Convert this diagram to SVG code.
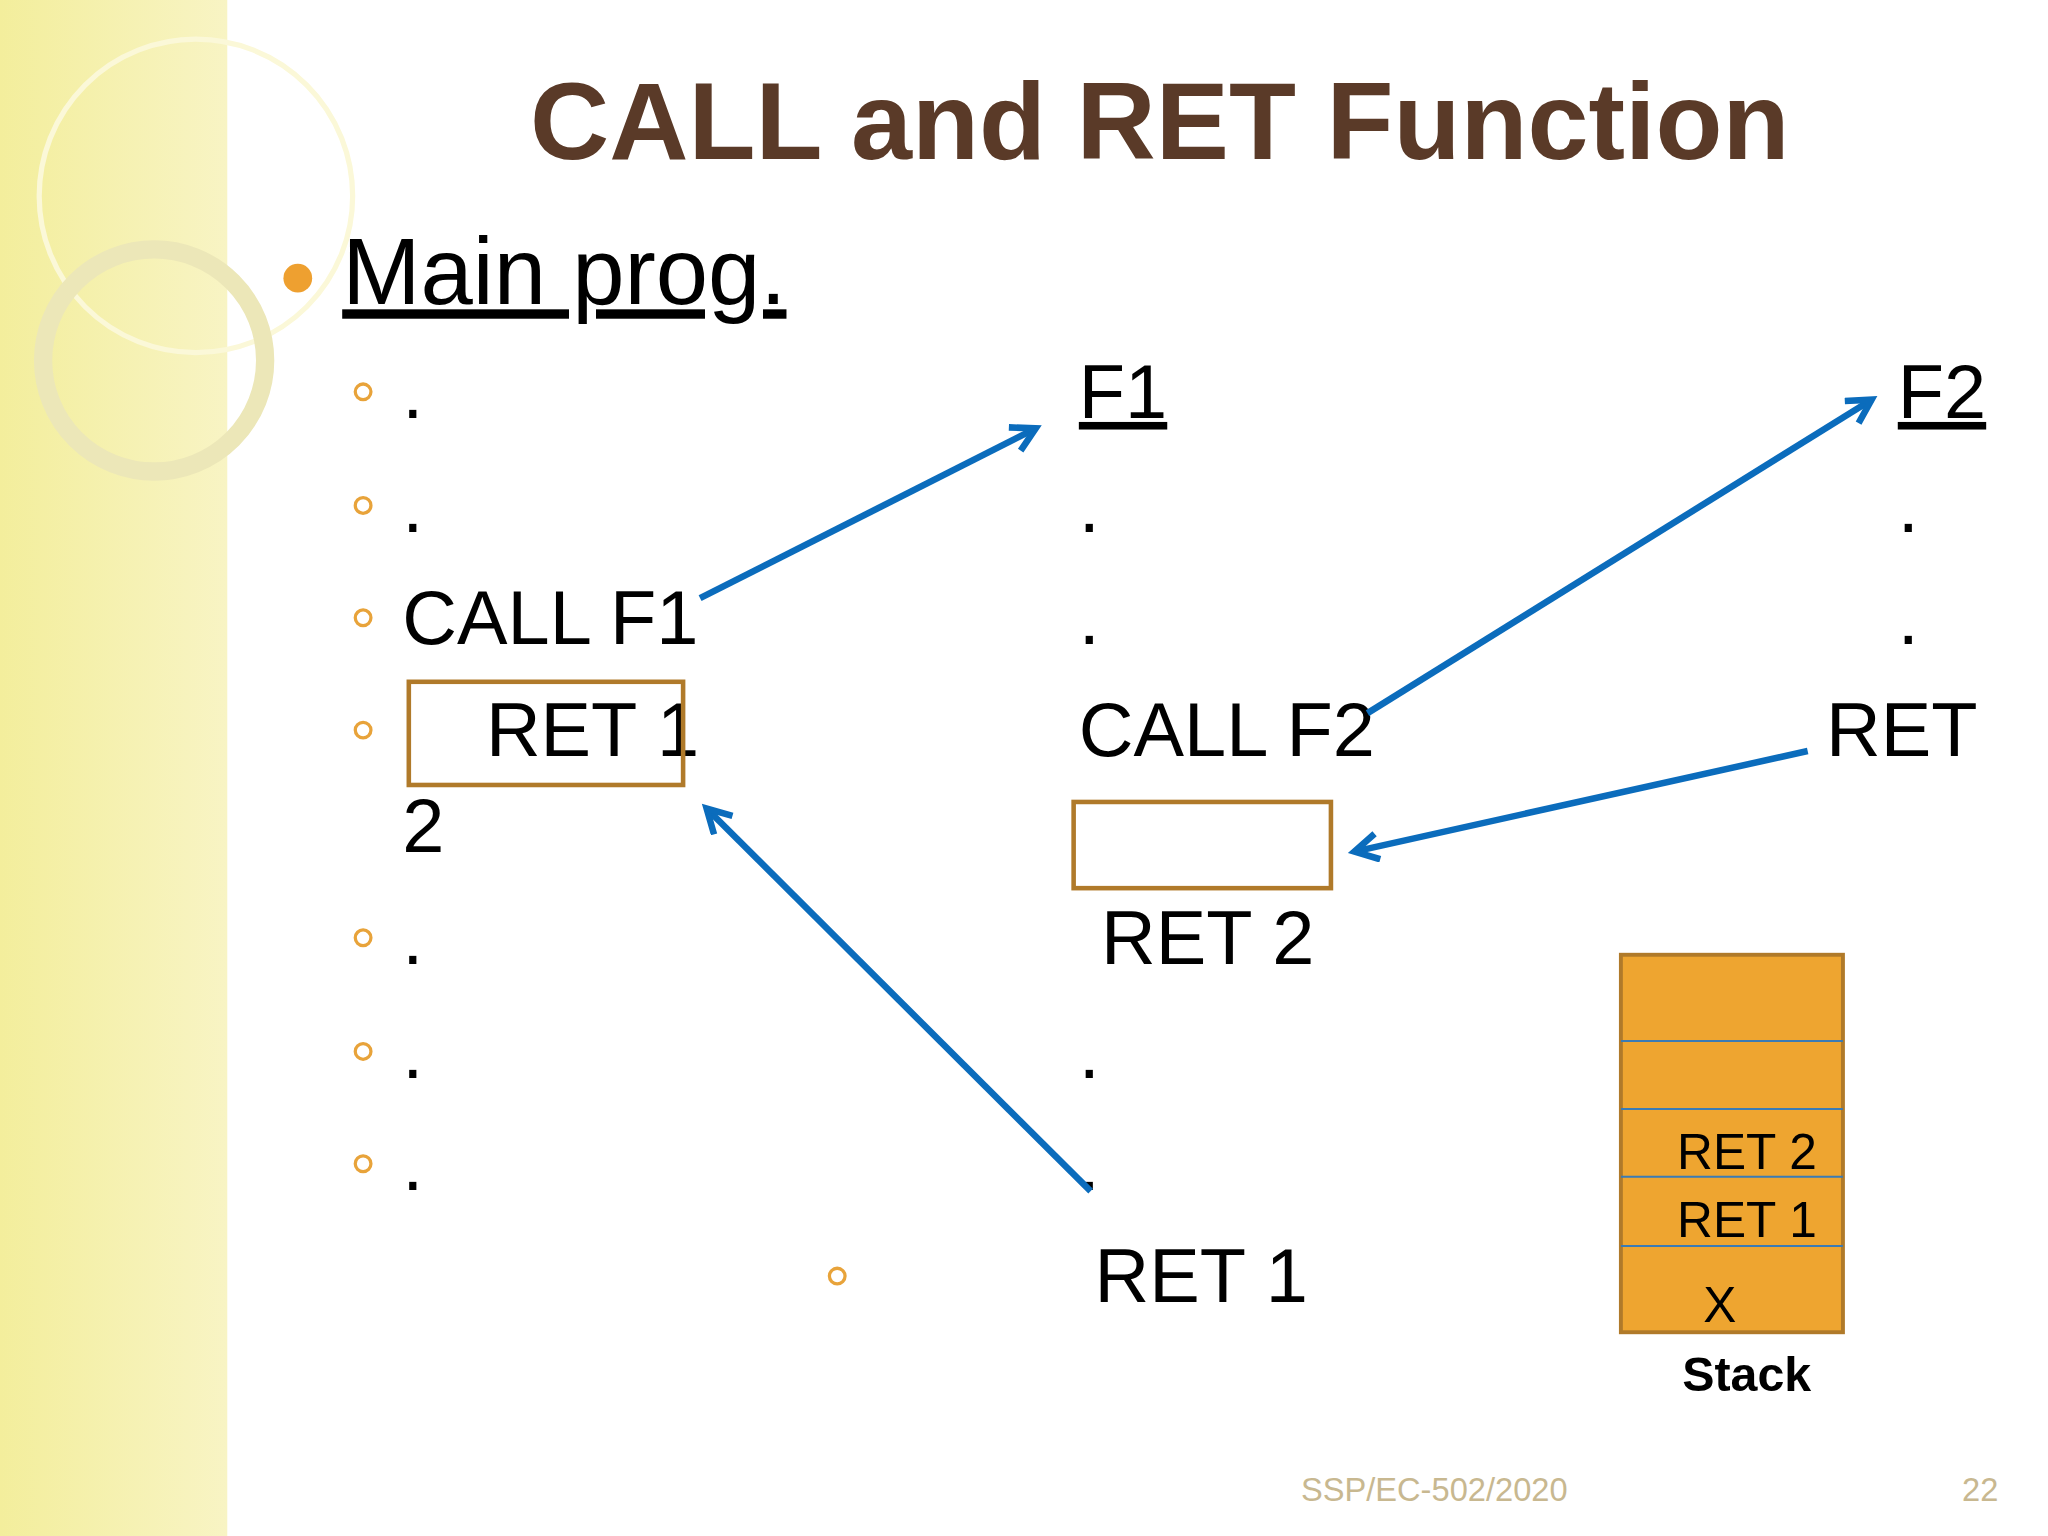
<svg xmlns="http://www.w3.org/2000/svg" width="2048" height="1536" viewBox="0 0 2048 1536">
<defs>
<linearGradient id="band" x1="0" x2="1" y1="0" y2="0"><stop offset="0" stop-color="#f3ee9c"/><stop offset="1" stop-color="#f8f4c4"/></linearGradient>
<marker id="ah" markerWidth="30" markerHeight="30" refX="20" refY="12" orient="auto" markerUnits="userSpaceOnUse"><path d="M2,2 L20,12 L2,22" fill="none" stroke="#0b6cbc" stroke-width="5"/></marker>
<style>
.t{font-family:"Liberation Sans",Arial,sans-serif;fill:#000;font-size:58px}
.s{font-size:38px}
.sb{fill:none;stroke:#e8a33a;stroke-width:2.5}
.c{stroke:#0b6cbc;stroke-width:5;fill:none;marker-end:url(#ah)}
.box{fill:none;stroke:#b07a2a;stroke-width:3.5}
</style>
</defs>
<rect width="2048" height="1536" fill="#fff"/>
<g transform="scale(1.30612)">
<rect x="0" y="0" width="174" height="1176" fill="url(#band)"/>
<circle cx="150" cy="150" r="120" fill="none" stroke="#fbf8d8" stroke-width="4"/>
<circle cx="118" cy="276" r="85" fill="none" stroke="#ece7b8" stroke-width="14"/>
<text x="888" y="122" text-anchor="middle" font-family="Liberation Sans,Arial,sans-serif" font-weight="bold" font-size="84" fill="#5a3a28">CALL and RET Function</text>
<circle cx="228" cy="213" r="11" fill="#eea030"/>
<text x="262" y="233" class="t" style="font-size:72px" text-decoration="underline">Main prog.</text>
<g id="main">
<circle class="sb" cx="278" cy="300" r="6"/><text class="t" x="308" y="320">.</text>
<circle class="sb" cx="278" cy="387" r="6"/><text class="t" x="308" y="407">.</text>
<circle class="sb" cx="278" cy="473" r="6"/><text class="t" x="308" y="493">CALL F1</text>
<circle class="sb" cx="278" cy="559" r="6"/><text class="t" x="372" y="579">RET 1</text>
<text class="t" x="308" y="652">2</text>
<rect class="box" x="313" y="522" width="210" height="79"/>
<circle class="sb" cx="278" cy="718" r="6"/><text class="t" x="308" y="738">.</text>
<circle class="sb" cx="278" cy="805" r="6"/><text class="t" x="308" y="825">.</text>
<circle class="sb" cx="278" cy="891" r="6"/><text class="t" x="308" y="911">.</text>
</g>
<g id="f1">
<text class="t" x="826" y="320" text-decoration="underline">F1</text>
<text class="t" x="826" y="407">.</text>
<text class="t" x="826" y="493">.</text>
<text class="t" x="826" y="579">CALL F2</text>
<rect class="box" x="822" y="614" width="197" height="66"/>
<text class="t" x="843" y="738">RET 2</text>
<text class="t" x="826" y="825">.</text>
<text class="t" x="826" y="911">.</text>
<circle class="sb" cx="641" cy="977" r="6"/><text class="t" x="838" y="997">RET 1</text>
</g>
<g id="f2">
<text class="t" x="1453" y="320" text-decoration="underline">F2</text>
<text class="t" x="1453" y="407">.</text>
<text class="t" x="1453" y="493">.</text>
<text class="t" x="1398" y="579">RET</text>
</g>
<g id="stack">
<rect x="1241" y="731" width="170" height="289" fill="#eea530" stroke="#b07a2a" stroke-width="3"/>
<g stroke="#3a7bb5" stroke-width="1.5"><line x1="1241" y1="797" x2="1411" y2="797"/><line x1="1241" y1="849" x2="1411" y2="849"/><line x1="1241" y1="901" x2="1411" y2="901"/><line x1="1241" y1="954" x2="1411" y2="954"/></g>
<text class="t s" x="1284" y="895">RET 2</text>
<text class="t s" x="1284" y="947">RET 1</text>
<text class="t s" x="1304" y="1012">X</text>
<text class="t s" x="1288" y="1065" style="font-size:37px;font-weight:bold">Stack</text>
</g>
<g id="connectors">
<line class="c" x1="536" y1="458" x2="793" y2="328"/>
<line class="c" x1="1047" y1="546" x2="1433" y2="306"/>
<line class="c" x1="1384" y1="575" x2="1037" y2="652"/>
<line class="c" x1="835" y1="912" x2="541" y2="619"/>
</g>
<text x="996" y="1149" font-family="Liberation Sans,Arial,sans-serif" font-size="25" fill="#c8b890">SSP/EC-502/2020</text>
<text x="1530" y="1149" font-family="Liberation Sans,Arial,sans-serif" font-size="25" fill="#c8b890" text-anchor="end">22</text>
</g>
</svg>
